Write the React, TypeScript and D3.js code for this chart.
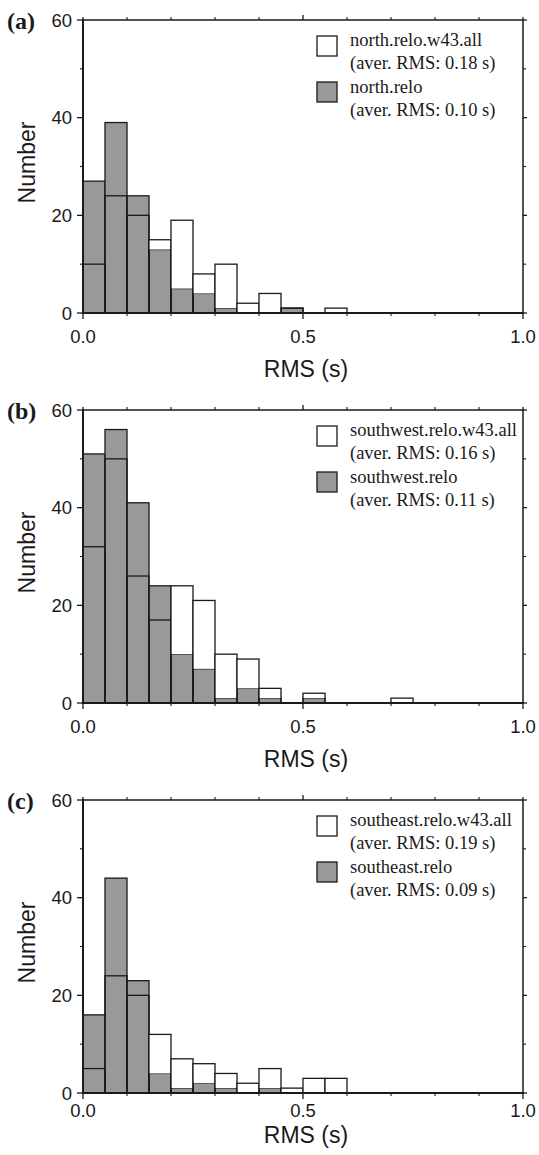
import React from "react";
import * as d3 from "d3";

// ---- data ----
const binStarts = [0.0, 0.05, 0.1, 0.15, 0.2, 0.25, 0.3, 0.35, 0.4, 0.45, 0.5, 0.55, 0.6, 0.65, 0.7];
const binWidth = 0.05;

const northAll = [10, 24, 20, 15, 19, 8, 10, 2, 4, 1, 0, 1, 0, 0, 0];
const northRelo = [27, 39, 24, 13, 5, 4, 1, 0, 0, 1, 0, 0, 0, 0, 0];

const southwestAll = [32, 50, 26, 17, 24, 21, 10, 9, 3, 0, 2, 0, 0, 0, 1];
const southwestRelo = [51, 56, 41, 24, 10, 7, 1, 3, 1, 0, 1, 0, 0, 0, 0];

const southeastAll = [5, 24, 20, 12, 7, 6, 4, 2, 5, 1, 3, 3, 0, 0, 0];
const southeastRelo = [16, 44, 23, 4, 1, 2, 1, 0, 1, 0, 0, 0, 0, 0, 0];

const panelLetters = ["(a)", "(b)", "(c)"];
const allNames = ["north.relo.w43.all", "southwest.relo.w43.all", "southeast.relo.w43.all"];
const reloNames = ["north.relo", "southwest.relo", "southeast.relo"];
const allAvg = ["(aver. RMS: 0.18 s)", "(aver. RMS: 0.16 s)", "(aver. RMS: 0.19 s)"];
const reloAvg = ["(aver. RMS: 0.10 s)", "(aver. RMS: 0.11 s)", "(aver. RMS: 0.09 s)"];
const allSeries = [northAll, southwestAll, southeastAll];
const reloSeries = [northRelo, southwestRelo, southeastRelo];

const yMajor = [0, 20, 40, 60];
const yMinor = [10, 30, 50];
const xMajor = [0, 0.5, 1.0];
const xMinor = [0.1, 0.2, 0.3, 0.4, 0.6, 0.7, 0.8, 0.9];
const xLabels = ["0.0", "0.5", "1.0"];

// ---- layout ----
const W = 539;
const H = 1155;
const plotLeft = 83;
const plotRight = 523;
const plotH = 293;
const panelTops = [20, 410, 800];
const tickLabelOffset = [30, 30, 24];
const axisTitleOffset = [64, 64, 50];

const GRAY = "#999999";
const INK = "#1a1a1a";
const SANS = "'Liberation Sans', Arial, Helvetica, sans-serif";
const SERIF = "'Liberation Serif', 'Times New Roman', serif";

function Panel({ idx }: { idx: number }) {
  const top = panelTops[idx];
  const bottom = top + plotH;
  const x = d3.scaleLinear().domain([0, 1]).range([plotLeft, plotRight]);
  const y = d3.scaleLinear().domain([0, 60]).range([bottom, top]);
  const all = allSeries[idx];
  const relo = reloSeries[idx];

  const bar = (v: number, i: number) => ({
    x: x(binStarts[i]),
    w: x(binStarts[i] + binWidth) - x(binStarts[i]),
    y: y(v),
    h: y(0) - y(v),
  });

  const legX = 317;
  const textX = 350;

  return (
    <g>
      {/* gray bars (relo) */}
      {relo.map((v, i) => {
        if (v <= 0) return null;
        const b = bar(v, i);
        return (
          <rect key={"r" + i} x={b.x} y={b.y} width={b.w} height={b.h}
            fill={GRAY} stroke={INK} strokeWidth={1.3} />
        );
      })}
      {/* white bars (w43.all) outlines */}
      {all.map((v, i) => {
        if (v <= 0) return null;
        const b = bar(v, i);
        const r = relo[i];
        // white part above gray gets white fill
        return (
          <g key={"a" + i}>
            {v > r && (
              <rect x={b.x} y={b.y} width={b.w} height={y(r) - y(v)} fill="#ffffff" stroke="none" />
            )}
            <rect x={b.x} y={b.y} width={b.w} height={b.h}
              fill="none" stroke={INK} strokeWidth={1.3} />
          </g>
        );
      })}

      {/* frame */}
      <line x1={plotLeft} x2={plotRight} y1={top} y2={top} stroke={INK} strokeWidth={1.5} />
      <line x1={plotRight} x2={plotRight} y1={top} y2={bottom} stroke={INK} strokeWidth={1.5} />
      <line x1={plotLeft} x2={plotLeft} y1={top - 0.75} y2={bottom + 1} stroke={INK} strokeWidth={2} />
      <line x1={plotLeft - 1} x2={plotRight + 0.75} y1={bottom} y2={bottom} stroke={INK} strokeWidth={2} />

      {/* y ticks */}
      {yMajor.map((v) => (
        <g key={"ym" + v}>
          <line x1={plotLeft - 6} x2={plotLeft} y1={y(v)} y2={y(v)} stroke={INK} strokeWidth={1.3} />
          <line x1={plotRight} x2={plotRight + 4} y1={y(v)} y2={y(v)} stroke={INK} strokeWidth={1.3} />
          <text x={plotLeft - 11} y={y(v)} dy="0.36em" textAnchor="end"
            fontFamily={SANS} fontSize={18.5} fill={INK}>{v}</text>
        </g>
      ))}
      {yMinor.map((v) => (
        <g key={"yn" + v}>
          <line x1={plotLeft - 3} x2={plotLeft} y1={y(v)} y2={y(v)} stroke={INK} strokeWidth={1.1} />
          <line x1={plotRight} x2={plotRight + 3} y1={y(v)} y2={y(v)} stroke={INK} strokeWidth={1.1} />
        </g>
      ))}

      {/* x ticks */}
      {xMajor.map((v, k) => (
        <g key={"xm" + v}>
          <line x1={x(v)} x2={x(v)} y1={bottom} y2={bottom + 6} stroke={INK} strokeWidth={1.3} />
          <line x1={x(v)} x2={x(v)} y1={top} y2={top - (v === 0.5 ? 5 : 3)} stroke={INK} strokeWidth={1.3} />
          <text x={x(v)} y={bottom + tickLabelOffset[idx]} textAnchor="middle"
            fontFamily={SANS} fontSize={18.5} fill={INK}>{xLabels[k]}</text>
        </g>
      ))}
      {xMinor.map((v) => (
        <g key={"xn" + v}>
          <line x1={x(v)} x2={x(v)} y1={bottom} y2={bottom + 3} stroke={INK} strokeWidth={1.1} />
          <line x1={x(v)} x2={x(v)} y1={top} y2={top - 3} stroke={INK} strokeWidth={1.1} />
        </g>
      ))}

      {/* axis titles */}
      <text x={(plotLeft + plotRight) / 2 + 3} y={bottom + axisTitleOffset[idx]} textAnchor="middle"
        fontFamily={SANS} fontSize={23} fill={INK}>RMS (s)</text>
      <text transform={`translate(35, ${(top + bottom) / 2 - 4}) rotate(-90)`} textAnchor="middle"
        fontFamily={SANS} fontSize={23} fill={INK}>Number</text>

      {/* panel letter */}
      <text x={7} y={top + 9} fontFamily={SERIF} fontWeight="bold" fontSize={24} fill={INK}>
        {panelLetters[idx]}
      </text>

      {/* legend */}
      <rect x={legX} y={top + 16} width={20} height={20} fill="#ffffff" stroke={INK} strokeWidth={1.3} />
      <rect x={legX} y={top + 62} width={20} height={20} fill={GRAY} stroke={INK} strokeWidth={1.3} />
      <g fontFamily={SERIF} fontSize={18.5} fill={INK}>
        <text x={textX} y={top + 26}>{allNames[idx]}</text>
        <text x={textX} y={top + 49}>{allAvg[idx]}</text>
        <text x={textX} y={top + 73}>{reloNames[idx]}</text>
        <text x={textX} y={top + 96}>{reloAvg[idx]}</text>
      </g>
    </g>
  );
}

export default function App() {
  return (
    <svg width={W} height={H} viewBox={`0 0 ${W} ${H}`}
      style={{ position: "absolute", left: 0, top: 0, background: "#ffffff" }}>
      <rect x={0} y={0} width={W} height={H} fill="#ffffff" />
      {[0, 1, 2].map((i) => (
        <Panel key={i} idx={i} />
      ))}
    </svg>
  );
}
